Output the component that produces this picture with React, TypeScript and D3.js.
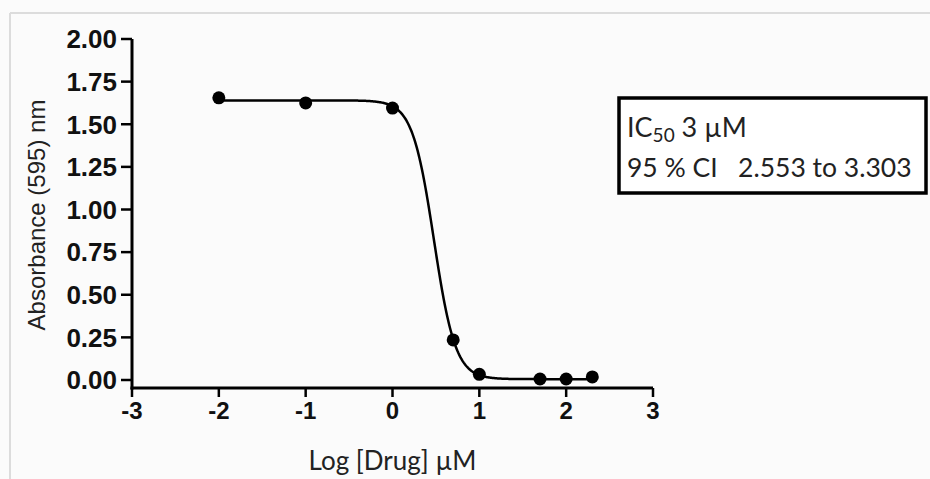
import React from "react";
import * as d3 from "d3";

const logDose = [-2, -1, 0, 0.699, 1, 1.699, 2, 2.301];
const absorbance = [1.655, 1.625, 1.595, 0.235, 0.033, 0.006, 0.006, 0.018];
const yTicks = [0, 0.25, 0.5, 0.75, 1.0, 1.25, 1.5, 1.75, 2.0];
const xTicks = [-3, -2, -1, 0, 1, 2, 3];
// four-parameter logistic fit shown in the figure
const fitTop = 1.64;
const fitBottom = 0.005;
const fitLogIC50 = 0.477;
const fitHill = 3.5;
const fitRange = [-2, 2.301];

const W = 930;
const H = 479;

export default function App() {
  const x = d3.scaleLinear().domain([-3, 3]).range([132, 653]);
  const y = d3.scaleLinear().domain([0, 2]).range([380, 39]);
  const axisY = 388;

  const fit = (v: number) =>
    fitBottom + (fitTop - fitBottom) / (1 + Math.pow(10, (v - fitLogIC50) * fitHill));
  const curveX = d3.range(fitRange[0], fitRange[1] + 1e-9, 0.01);
  const line = d3
    .line<number>()
    .x((d) => x(d))
    .y((d) => y(fit(d)))
    .curve(d3.curveLinear);

  const labelFont = "'Liberation Sans', Arial, sans-serif";
  const textFont = "Lato, 'Open Sans', sans-serif";

  return (
    <svg
      width={W}
      height={H}
      style={{ position: "absolute", left: 0, top: 0, background: "#fbfbfb" }}
    >
      <rect x={0} y={0} width={W} height={H} fill="#fbfbfb" />
      <line x1={10} y1={13} x2={W} y2={13} stroke="#dcdcdc" strokeWidth={2} />
      <line x1={10} y1={13} x2={10} y2={H} stroke="#dcdcdc" strokeWidth={2} />

      {/* y axis */}
      <line x1={x(-3)} y1={y(2)} x2={x(-3)} y2={axisY + 1.5} stroke="#000" strokeWidth={3} />
      {yTicks.map((t) => (
        <g key={"yt" + t}>
          <line x1={x(-3) - 11} x2={x(-3)} y1={y(t)} y2={y(t)} stroke="#000" strokeWidth={2.5} />
          <text
            x={x(-3) - 15}
            y={y(t)}
            dy="0.36em"
            textAnchor="end"
            fontFamily={labelFont}
            fontWeight="bold"
            fontSize={26}
            fill="#111"
          >
            {t.toFixed(2)}
          </text>
        </g>
      ))}

      {/* x axis */}
      <line x1={x(-3) - 1.5} y1={axisY} x2={x(3)} y2={axisY} stroke="#000" strokeWidth={3} />
      {xTicks.map((t) => (
        <g key={"xt" + t}>
          <line x1={x(t)} x2={x(t)} y1={axisY} y2={axisY + 9} stroke="#000" strokeWidth={2.5} />
          <text
            x={x(t)}
            y={axisY + 31}
            textAnchor="middle"
            fontFamily={labelFont}
            fontWeight="bold"
            fontSize={24}
            fill="#111"
          >
            {t}
          </text>
        </g>
      ))}

      {/* axis titles */}
      <text
        transform={`translate(45, 215) rotate(-90)`}
        textAnchor="middle"
        fontFamily={labelFont}
        fontSize={24}
        fill="#222"
      >
        Absorbance (595) nm
      </text>
      <text
        x={x(0)}
        y={470}
        textAnchor="middle"
        fontFamily={textFont}
        fontSize={26}
        fill="#222"
      >
        Log [Drug] µM
      </text>

      {/* fitted curve */}
      <path d={line(curveX) || ""} fill="none" stroke="#000" strokeWidth={2.5} />

      {/* data points */}
      {logDose.map((d, i) => (
        <circle key={"p" + i} cx={x(d)} cy={y(absorbance[i])} r={6.5} fill="#000" />
      ))}

      {/* IC50 box */}
      <rect x={619} y={98} width={307} height={95} fill="#fff" stroke="#000" strokeWidth={3.5} />
      <text x={627} y={137} fontFamily={textFont} fontSize={27} fill="#222">
        IC
        <tspan fontSize={19} dy={5}>
          50
        </tspan>
        <tspan dy={-5}> 3 µM</tspan>
      </text>
      <text x={627} y={177} fontFamily={textFont} fontSize={26.5} fill="#222" xmlSpace="preserve">
        95 % CI   2.553 to 3.303
      </text>
    </svg>
  );
}
